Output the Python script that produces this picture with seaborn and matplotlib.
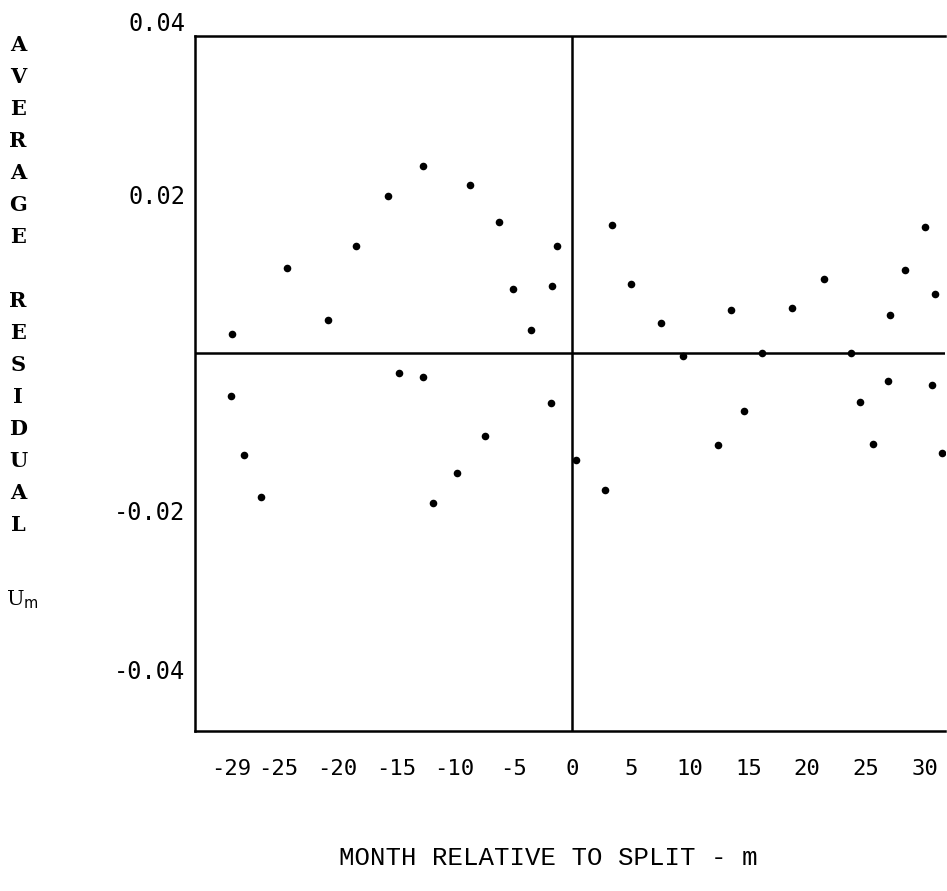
import pandas as pd
import numpy as np
import seaborn as sns
import matplotlib.pyplot as plt

# === data ===
months = [-29.0, -28.9, -27.9, -26.5, -24.3, -20.8, -18.4, -15.7, -14.7, -12.7,
          -12.7, -11.8, -9.8, -8.7, -7.4, -6.2, -5.0, -3.5, -1.8, -1.7,
          -1.3, 0.3, 2.8, 3.4, 5.0, 7.6, 9.4, 12.4, 13.5, 14.6,
          16.2, 18.7, 21.4, 23.7, 24.5, 25.6, 26.9, 27.1, 28.3, 30.0,
          30.6, 30.9, 31.5]
residuals = [-0.0055, 0.0023, -0.0129, -0.0183, 0.0107, 0.0041, 0.0135, 0.0198, -0.0026, 0.0236,
             -0.0031, -0.0190, -0.0152, 0.0212, -0.0105, 0.0165, 0.0080, 0.0028, -0.0064, 0.0084,
             0.0135, -0.0136, -0.0173, 0.0161, 0.0087, 0.0038, -0.0004, -0.0117, 0.0054, -0.0074,
             0.0000, 0.0056, 0.0093, 0.0000, -0.0063, -0.0115, -0.0036, 0.0047, 0.0104, 0.0159,
             -0.0041, 0.0074, -0.0127]

x_ticks = [-29, -25, -20, -15, -10, -5, 0, 5, 10, 15, 20, 25, 30]
y_ticks = [-0.04, -0.02, 0.02, 0.04]
y_letters = list("AVERAGE") + [""] + list("RESIDUAL")

df = pd.DataFrame({"month": months, "residual": residuals})

# === style ===
sns.set_style("white")
plt.rcParams["font.family"] = ["DejaVu Sans Mono", "DejaVu Sans"]
plt.rcParams["text.color"] = "black"
plt.rcParams["xtick.color"] = "black"
plt.rcParams["ytick.color"] = "black"

W, H = 947, 891
fig = plt.figure(figsize=(W / 100, H / 100), dpi=100)
ax = fig.add_axes([195 / W, 1 - 731 / H, (945 - 195) / W, (731 - 36) / H])

sns.scatterplot(data=df, x="month", y="residual", ax=ax, color="black",
                s=30, edgecolor="black", linewidth=0, legend=False, zorder=3)

lw = 1.8
ax.axhline(0, color="black", lw=lw, zorder=2)
ax.axvline(0, color="black", lw=lw, zorder=2)

ax.set_xlim(-32.09, 31.74)
ax.set_ylim(-0.0478, 0.04)

ax.set_xticks(x_ticks)
ax.set_xticklabels([str(t) for t in x_ticks])
ax.set_yticks(y_ticks)
ax.set_yticklabels([f"{t:.2f}" for t in y_ticks])
ax.tick_params(axis="x", length=0, pad=20, labelsize=16, labelcolor="black")
ax.tick_params(axis="y", length=0, pad=7, labelsize=17, labelcolor="black")
# top label sits above the frame line, as in the original
ax.get_yticklabels()[-1].set_va("bottom")

for side in ["left", "top", "bottom"]:
    ax.spines[side].set_color("black")
    ax.spines[side].set_linewidth(lw)
ax.spines["right"].set_visible(False)

ax.set_xlabel("")
ax.set_ylabel("")

# stacked typewriter y-axis title
for i, ch in enumerate(y_letters):
    if ch:
        fig.text(18 / W, 1 - (45 + 32 * i) / H, ch, ha="center", va="center",
                 fontsize=15, fontweight="bold", family="DejaVu Serif")
fig.text(22 / W, 1 - 600 / H, r"U$_{\mathrm{m}}$", ha="center", va="center",
         fontsize=15, family="DejaVu Serif")

fig.text(548 / W, 1 - 858 / H, "MONTH RELATIVE TO SPLIT - m", ha="center", va="center",
         fontsize=18.5, family="Liberation Mono")

plt.savefig("out.png", dpi=100)
